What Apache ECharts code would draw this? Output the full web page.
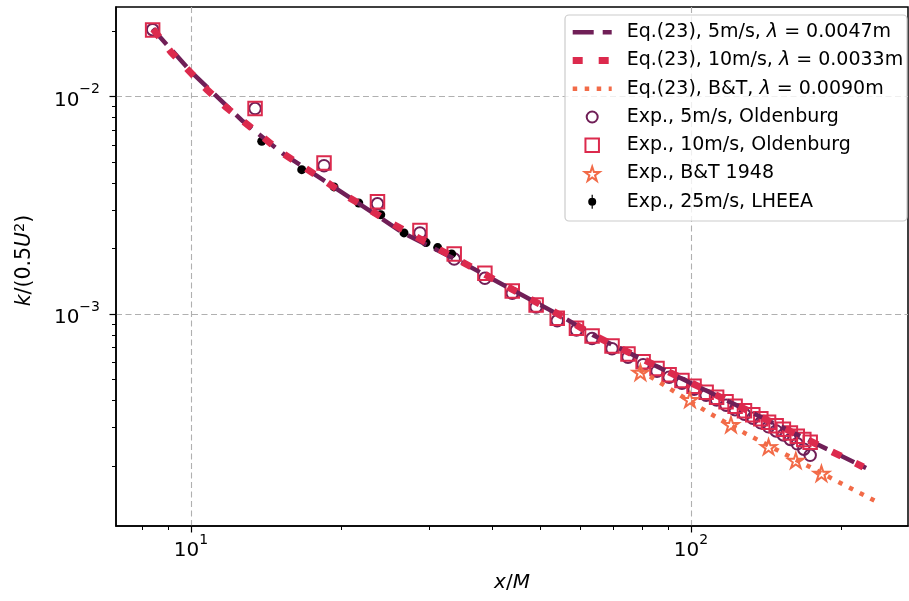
<!DOCTYPE html>
<html>
<head>
<meta charset="utf-8">
<script src="https://cdn.jsdelivr.net/npm/echarts@6/dist/echarts.min.js"></script>
<style>
html,body{margin:0;padding:0;background:#fff;}
#c{width:909px;height:601px;}
</style>
</head>
<body>
<div id="c"></div>
<script>
// ---------- data ----------
const eq5X  = [8.38, 10.0, 12.70, 15.27, 18.37, 26.55, 35.6, 44.0, 55.3, 63.6, 100.9, 223.9];
const eq5Y  = [0.0205, 0.0130, 7.69e-3, 5.46e-3, 4.14e-3, 2.36e-3, 1.68e-3, 1.29e-3, 9.72e-4, 8.0e-4, 4.76e-4, 1.96e-4];
const eq10X = [8.40, 9.12, 10.72, 11.69, 12.79, 15.3, 18.70, 20.54, 22.62, 25.12, 35.6, 44.0, 55.3, 63.6, 100.9, 221.0];
const eq10Y = [0.0204, 0.0160, 0.01085, 9.02e-3, 7.61e-3, 5.46e-3, 4.03e-3, 3.47e-3, 3.04e-3, 2.62e-3, 1.69e-3, 1.295e-3, 9.75e-4, 8.02e-4, 4.78e-4, 1.98e-4];
const btLineX = [79.0, 108.1, 129.0, 197.2, 238.2];
const btLineY = [5.52e-4, 3.53e-4, 2.81e-4, 1.69e-4, 1.35e-4];
const oldenburgX = [8.38, 13.43, 18.45, 23.6, 28.7, 33.6, 38.7, 43.9, 49.0, 54.0, 59.0, 63.4, 69.5, 74.8, 80.2, 85.5, 90.4, 95.9, 101.4, 107.2, 112.5, 117.5, 122.5, 127.9, 132.9, 137.9, 142.9, 148.0, 153.0, 158.0, 163.1, 168.1, 173.1];
const exp5Y  = [0.0203, 8.80e-3, 4.81e-3, 3.21e-3, 2.36e-3, 1.79e-3, 1.46e-3, 1.245e-3, 1.077e-3, 9.31e-4, 8.44e-4, 7.71e-4, 6.93e-4, 6.33e-4, 5.85e-4, 5.46e-4, 5.12e-4, 4.81e-4, 4.51e-4, 4.23e-4, 4.02e-4, 3.81e-4, 3.63e-4, 3.46e-4, 3.32e-4, 3.16e-4, 3.03e-4, 2.90e-4, 2.78e-4, 2.65e-4, 2.53e-4, 2.39e-4, 2.24e-4];
const exp10Y = [0.0202, 8.80e-3, 4.95e-3, 3.28e-3, 2.42e-3, 1.89e-3, 1.54e-3, 1.276e-3, 1.10e-3, 9.55e-4, 8.59e-4, 7.92e-4, 7.12e-4, 6.54e-4, 6.04e-4, 5.61e-4, 5.26e-4, 4.94e-4, 4.66e-4, 4.37e-4, 4.14e-4, 3.95e-4, 3.77e-4, 3.59e-4, 3.44e-4, 3.30e-4, 3.18e-4, 3.06e-4, 2.95e-4, 2.84e-4, 2.74e-4, 2.65e-4, 2.57e-4];
const btStarX = [79.2, 99.5, 120.2, 142.9, 162.0, 182.3];
const btStarY = [5.39e-4, 4.04e-4, 3.10e-4, 2.45e-4, 2.12e-4, 1.85e-4];
const lheeaX = [13.85, 16.65, 19.32, 21.65, 23.96, 26.67, 29.51, 31.14, 33.21];
const lheeaY = [6.23e-3, 4.61e-3, 3.84e-3, 3.24e-3, 2.86e-3, 2.36e-3, 2.13e-3, 2.02e-3, 1.89e-3];

const xMajorTicks = [10, 100];
const xMinorTicks = [8, 9, 20, 30, 40, 50, 60, 70, 80, 90, 200];
const yMajorTicks = [1e-3, 1e-2];
const yMinorTicks = [2e-4, 3e-4, 4e-4, 5e-4, 6e-4, 7e-4, 8e-4, 9e-4, 2e-3, 3e-3, 4e-3, 5e-3, 6e-3, 7e-3, 8e-3, 9e-3, 2e-2];

const seriesNames = [
  'Eq.(23), 5m/s, λ = 0.0047m',
  'Eq.(23), 10m/s, λ = 0.0033m',
  'Eq.(23), B&T, λ = 0.0090m',
  'Exp., 5m/s, Oldenburg',
  'Exp., 10m/s, Oldenburg',
  'Exp., B&T 1948',
  'Exp., 25m/s, LHEEA'
];

// ---------- style ----------
const FONT = 'DejaVu Sans';
const C_PURPLE = '#701f57';
const C_RED = '#dc2a4d';
const C_ORANGE = '#f26b48';
const X_MIN = 7.079, X_MAX = 271.6;
const Y_MIN = 1.06e-4, Y_MAX = 0.0258;

// star outline (10 vertices, clockwise on screen)
function starPts(cx, cy, R, r) {
  const pts = [];
  for (let k = 0; k < 10; k++) {
    const a = (-90 + 36 * k) * Math.PI / 180, rad = k % 2 ? r : R;
    pts.push([cx + rad * Math.cos(a), cy + rad * Math.sin(a)]);
  }
  return pts;
}
function offsetPoly(p, d) {
  const n = p.length, out = [];
  const nrm = (a, b) => { const dx = b[0] - a[0], dy = b[1] - a[1], l = Math.hypot(dx, dy); return [dy / l, -dx / l]; };
  for (let i = 0; i < n; i++) {
    const a = p[(i - 1 + n) % n], b = p[i], c = p[(i + 1) % n];
    const n1 = nrm(a, b), n2 = nrm(b, c), k = 1 + n1[0] * n2[0] + n1[1] * n2[1];
    out.push([b[0] + d * (n1[0] + n2[0]) / k, b[1] + d * (n1[1] + n2[1]) / k]);
  }
  return out;
}
const polyStr = p => 'M' + p.map(q => q[0].toFixed(2) + ',' + q[1].toFixed(2)).join(' L') + ' Z ';
const STAR = 'path://' + polyStr(starPts(100, 100, 100, 38.1));
// legend icons: filled rings inside a fixed 39x20 frame (degenerate corner segments fix the frame)
const FRAME = 'M0,0 L0.01,0 Z M39,20 L38.99,20 Z ';
const LEG_CIRCLE = 'path://' + FRAME + 'M26,10 A6.5,6.5 0 1 1 13,10 A6.5,6.5 0 1 1 26,10 Z M24,10 A4.5,4.5 0 1 0 15,10 A4.5,4.5 0 1 0 24,10 Z';
const LEG_SQUARE = 'path://' + FRAME + 'M11.75,2.25 L27.25,2.25 L27.25,17.75 L11.75,17.75 Z M13.75,4.25 L13.75,15.75 L25.25,15.75 L25.25,4.25 Z';
const legStar = starPts(19.5, 11.0, 7.8, 7.8 * 0.381);
const LEG_STAR = 'path://' + FRAME + polyStr(offsetPoly(legStar, 1)) + polyStr(offsetPoly(legStar, -1).reverse());
const LEG_DOT = 'path://' + FRAME + 'M18.9,3 L20.1,3 L20.1,17 L18.9,17 Z M23.5,10 A4,4 0 1 1 15.5,10 A4,4 0 1 1 23.5,10 Z';

const zip = (a, b) => a.map((v, i) => [v, b[i]]);
const powLabel = v => '{b|10}{s|' + String(Math.round(Math.log10(v))).replace('-', '\u2212') + '}';
const richPow = {
  b: {fontSize: 20, fontFamily: FONT, color: '#000', lineHeight: 28, verticalAlign: 'bottom'},
  s: {fontSize: 14, fontFamily: FONT, color: '#000', lineHeight: 18, verticalAlign: 'top'}
};

function majorAxis(min, max, major, extra) {
  return Object.assign({
    type: 'log', logBase: 10, min: min, max: max,
    axisLine: {show: true, lineStyle: {color: '#000', width: 1.5}},
    axisTick: {show: true, customValues: major, length: 6.5, lineStyle: {color: '#000', width: 1.2}},
    splitLine: {show: true, lineStyle: {color: '#b0b0b0', width: 1.1, type: [6, 3.5]}},
    minorTick: {show: false}, minorSplitLine: {show: false}
  }, extra);
}
function minorAxis(min, max, minor, pos) {
  return {
    type: 'log', logBase: 10, min: min, max: max, position: pos, offset: 0,
    axisLine: {show: false},
    axisTick: {show: true, customValues: minor, length: 4, lineStyle: {color: '#000', width: 1}},
    axisLabel: {show: false},
    splitLine: {show: false}
  };
}

const legendItems = [
  {name: seriesNames[0], itemStyle: {opacity: 0}, lineStyle: {color: C_PURPLE, width: 4.5, type: [21, 9], opacity: 1}},
  {name: seriesNames[1], itemStyle: {opacity: 0}, lineStyle: {color: C_RED, width: 7, type: [10, 16], opacity: 1}},
  {name: seriesNames[2], itemStyle: {opacity: 0}, lineStyle: {color: C_ORANGE, width: 4.5, type: [4.5, 7.5], opacity: 1}},
  {name: seriesNames[3], icon: LEG_CIRCLE, itemStyle: {color: C_PURPLE, borderWidth: 0}},
  {name: seriesNames[4], icon: LEG_SQUARE, itemStyle: {color: C_RED, borderWidth: 0}},
  {name: seriesNames[5], icon: LEG_STAR, itemStyle: {color: C_ORANGE, borderWidth: 0}},
  {name: seriesNames[6], icon: LEG_DOT, itemStyle: {color: '#000', borderWidth: 0}}
];

const option = {
  animation: false,
  backgroundColor: '#fff',
  textStyle: {fontFamily: FONT},
  grid: {left: 116, right: 1, top: 7, bottom: 75, show: true, borderColor: '#000', borderWidth: 1.5, backgroundColor: 'transparent'},
  xAxis: [
    majorAxis(X_MIN, X_MAX, xMajorTicks, {
      position: 'bottom', offset: 0,
      name: '{i|x}/{i|M}', nameLocation: 'middle', nameGap: 45,
      nameTextStyle: {fontSize: 20, fontFamily: FONT, color: '#000', lineHeight: 24,
        rich: {i: {fontSize: 20, fontFamily: FONT, fontStyle: 'italic', color: '#000', lineHeight: 24}}},
      axisLabel: {show: true, customValues: xMajorTicks, formatter: powLabel, rich: richPow, margin: 7}
    }),
    minorAxis(X_MIN, X_MAX, xMinorTicks, 'bottom')
  ],
  yAxis: [
    majorAxis(Y_MIN, Y_MAX, yMajorTicks, {
      position: 'left', offset: 0,
      name: '{i|k}/(0.5{i|U}{s|2})', nameLocation: 'middle', nameGap: 79,
      nameTextStyle: {fontSize: 20.5, fontFamily: FONT, color: '#000', lineHeight: 24, padding: [0, 0, 0, 12],
        rich: {
          i: {fontSize: 20.5, fontFamily: FONT, fontStyle: 'italic', color: '#000', lineHeight: 24},
          s: {fontSize: 14.5, fontFamily: FONT, color: '#000', lineHeight: 16, verticalAlign: 'top'}
        }},
      axisLabel: {show: true, customValues: yMajorTicks, formatter: powLabel, rich: richPow, margin: 16}
    }),
    minorAxis(Y_MIN, Y_MAX, yMinorTicks, 'left')
  ],
  legend: {
    show: true, orient: 'vertical', left: 569.2, top: 22.3, padding: 0, z: 100,
    itemWidth: 39, itemHeight: 20, itemGap: 8.23, selectedMode: false, symbolKeepAspect: true,
    data: legendItems,
    formatter: s => '{t|' + s.replace('λ', '}{i|λ}{t|') + '}',
    textStyle: {fontSize: 19, fontFamily: FONT, color: '#000', lineHeight: 20, padding: [0, 0, 0, 10],
      rich: {
        t: {fontSize: 19, fontFamily: FONT, color: '#000', lineHeight: 20},
        i: {fontSize: 19, fontFamily: FONT, fontStyle: 'italic', color: '#000', lineHeight: 20}
      }}
  },
  graphic: [{
    type: 'rect', z: 50,
    shape: {x: 565, y: 15, width: 342, height: 206, r: 4},
    style: {fill: 'rgba(255,255,255,0.8)', stroke: '#cccccc', lineWidth: 1.2}
  }],
  series: [
    {name: seriesNames[0], type: 'line', data: zip(eq5X, eq5Y), symbol: 'none', silent: true,
      lineStyle: {color: C_PURPLE, width: 4.5, type: [21, 9], cap: 'butt'}, itemStyle: {color: C_PURPLE}},
    {name: seriesNames[1], type: 'line', data: zip(eq10X, eq10Y), symbol: 'none', silent: true,
      lineStyle: {color: C_RED, width: 7, type: [10, 16], cap: 'butt'}, itemStyle: {color: C_RED}},
    {name: seriesNames[2], type: 'line', data: zip(btLineX, btLineY), symbol: 'none', silent: true,
      lineStyle: {color: C_ORANGE, width: 4.5, type: [4.5, 7.5], cap: 'butt'}, itemStyle: {color: C_ORANGE}},
    {name: seriesNames[3], type: 'scatter', data: zip(oldenburgX, exp5Y), symbol: 'circle', symbolSize: 11.5, silent: true,
      itemStyle: {color: 'transparent', borderColor: C_PURPLE, borderWidth: 2, opacity: 1}},
    {name: seriesNames[4], type: 'scatter', data: zip(oldenburgX, exp10Y), symbol: 'rect', symbolSize: 13.5, silent: true,
      itemStyle: {color: 'transparent', borderColor: C_RED, borderWidth: 2, opacity: 1}},
    {name: seriesNames[5], type: 'scatter', data: zip(btStarX, btStarY), symbol: STAR, symbolSize: 15.5, symbolKeepAspect: true, silent: true,
      itemStyle: {color: 'transparent', borderColor: C_ORANGE, borderWidth: 2, opacity: 1}},
    {name: seriesNames[6], type: 'scatter', data: zip(lheeaX, lheeaY), symbol: 'circle', symbolSize: 9, silent: true,
      itemStyle: {color: '#000', opacity: 1}}
  ]
};

const chart = echarts.init(document.getElementById('c'), null, {renderer: 'canvas'});
chart.setOption(option);
</script>
</body>
</html>
